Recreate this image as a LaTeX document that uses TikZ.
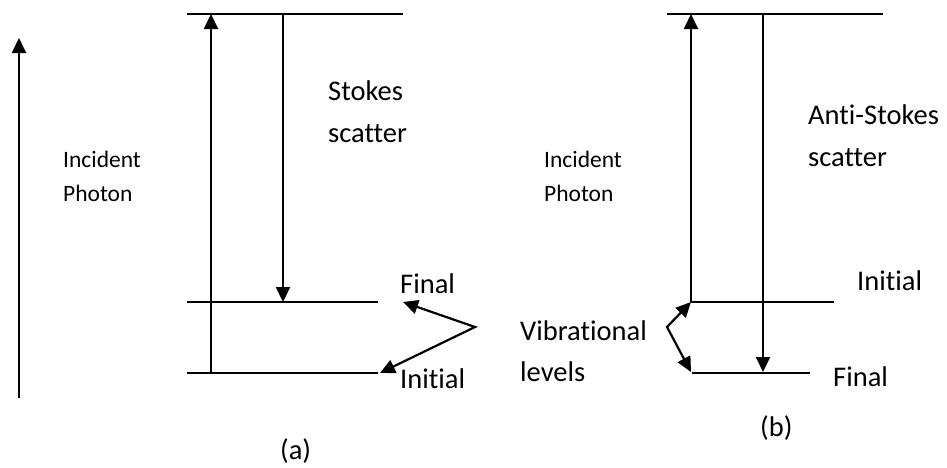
\documentclass[tikz,border=0pt]{standalone}
\usepackage{fontspec}
\setmainfont{Carlito}[Ligatures={NoCommon}]
\usetikzlibrary{arrows.meta}
\begin{document}
\begin{tikzpicture}[x=1pt,y=-1pt,
  level/.style={line width=2.2pt},
  photon/.style={line width=2.2pt,-{Triangle[length=15pt,width=14pt]}},
  pointer/.style={line width=2.2pt,{Triangle[length=15pt,width=14pt]}-{Triangle[length=15pt,width=14pt]}},
  big/.style={font=\fontsize{28.5}{42}\selectfont,inner sep=0pt,anchor=base west,align=left},
  small/.style={font=\fontsize{23.5}{34}\selectfont,inner sep=0pt,anchor=base west,align=left}]
\useasboundingbox (0,0) rectangle (947,467);

% ---- (a) Stokes scattering ----
\coordinate (inA) at (19,398);
\coordinate (inB) at (19,38);
\draw[photon] (inA) -- (inB);

\coordinate (aTopL) at (187,14);   \coordinate (aTopR) at (403,14);
\coordinate (aMidL) at (187,302);  \coordinate (aMidR) at (378,302);
\coordinate (aBotL) at (187,373);  \coordinate (aBotR) at (378,373);
\draw[level] (aTopL) -- (aTopR);
\draw[level] (aMidL) -- (aMidR);
\draw[level] (aBotL) -- (aBotR);

\coordinate (aUpS) at (211,373);   \coordinate (aUpE) at (211,14);
\coordinate (aDnS) at (283,14);    \coordinate (aDnE) at (283,302);
\draw[photon] (aUpS) -- (aUpE);
\draw[photon] (aDnS) -- (aDnE);

% multi-line labels are placed by the baseline of their last line
\node[small] (aInc) at (63,201) {Incident\\Photon};
\node[big] (aSto) at (328,142) {Stokes\\scatter};
\node[big] (aFin) at (400,293) {Final};
\node[big] (aIni) at (400,388) {Initial};

\coordinate (aApex) at (475,327);
\coordinate (aPtF) at (403,302);
\coordinate (aPtI) at (380,373);
\draw[pointer] (aPtF) -- (aApex) -- (aPtI);

\node[big] (capA) at (280,459) {(a)};

% ---- (b) anti-Stokes scattering ----
\coordinate (bTopL) at (667,14);   \coordinate (bTopR) at (883,14);
\coordinate (bMidL) at (691,302);  \coordinate (bMidR) at (834,302);
\coordinate (bBotL) at (692,373);  \coordinate (bBotR) at (810,373);
\draw[level] (bTopL) -- (bTopR);
\draw[level] (bMidL) -- (bMidR);
\draw[level] (bBotL) -- (bBotR);

\coordinate (bUpE) at (691,14);
\coordinate (bDnS) at (763,14);    \coordinate (bDnE) at (763,372);
\draw[photon] (bMidL) -- (bUpE);
\draw[photon] (bDnS) -- (bDnE);

\node[small] (bInc) at (544,201) {Incident\\Photon};
\node[big] (bSto) at (808,166) {Anti-Stokes\\scatter};
\node[big] (bIni) at (857,290) {Initial};
\node[big] (bFin) at (833,386) {Final};
\node[big,font=\fontsize{28.5}{41}\selectfont] (vib) at (520,381) {Vibrational\\levels};

\coordinate (bApex) at (667,327);
\coordinate (bPtU) at (691,302);
\coordinate (bPtD) at (691,372);
\draw[pointer] (bPtU) -- (bApex) -- (bPtD);

\node[big] (capB) at (760,436) {(b)};
\end{tikzpicture}
\end{document}
